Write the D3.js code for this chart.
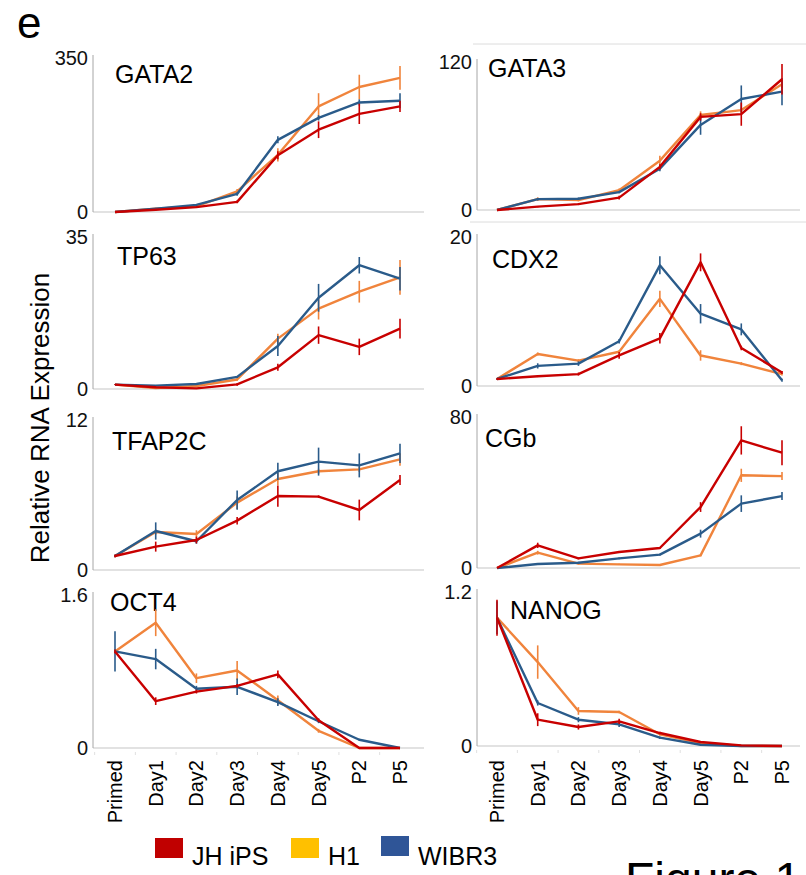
<!DOCTYPE html>
<html>
<head>
<meta charset="utf-8">
<script src="https://cdn.jsdelivr.net/npm/d3@7"></script>
<style>
  body { margin: 0; background: #fff; }
  svg { display: block; font-family: "Liberation Sans", Arial, sans-serif; }
</style>
</head>
<body>
<div id="chart"></div>
<script>
// categories and genes
const categories = ["Primed", "Day1", "Day2", "Day3", "Day4", "Day5", "P2", "P5"];
const genes = ["GATA2", "GATA3", "TP63", "CDX2", "TFAP2C", "CGb", "OCT4", "NANOG"];
const yMax = [350, 120, 35, 20, 12, 80, 1.6, 1.2];
const yMaxLabels = ["350", "120", "35", "20", "12", "80", "1.6", "1.2"];
const seriesNames = ["JH iPS", "H1", "WIBR3"];

// one row per gene, in the order of genes
const jhIPS = [
  [0, 5, 11, 23, 129, 187, 223, 240],
  [0, 2.7, 4.8, 10, 35, 75.5, 77.7, 106],
  [1.0, 0.4, 0.15, 1.07, 5.0, 12.4, 9.7, 13.9],
  [0.94, 1.3, 1.6, 4.1, 6.4, 16.6, 5.1, 1.8],
  [1.12, 1.87, 2.4, 3.95, 5.92, 5.87, 4.8, 7.2],
  [0, 12, 5.1, 8.5, 10.6, 32.3, 67.6, 61.1],
  [1.01, 0.49, 0.59, 0.65, 0.77, 0.29, 0, 0],
  [1.0, 0.205, 0.148, 0.192, 0.101, 0.031, 0.005, 0]
];
const jhIPSErr = [
  [0, 1, 1, 3, 9, 19, 23, 13],
  [0, 0.5, 0.8, 1.5, 2, 3, 9.4, 12.3],
  [0.1, 0.1, 0.1, 0.3, 0.8, 2, 1.9, 2.3],
  [0.1, 0.1, 0.2, 0.45, 0.7, 1.2, 0.3, 0.2],
  [0.1, 0.4, 0.27, 0.3, 0.85, 0.1, 0.83, 0.4],
  [0, 1.4, 0.5, 0.5, 0.5, 2.6, 7.5, 6.6],
  [0.02, 0.04, 0.02, 0.02, 0.04, 0.02, 0, 0],
  [0.14, 0.05, 0.02, 0.02, 0.01, 0.005, 0, 0]
];
const h1 = [
  [0, 7.6, 12.9, 47, 130, 240, 284, 305],
  [0, 8.8, 8, 16, 40, 77, 81, 102],
  [1.0, 0.2, 0.7, 2.2, 11.6, 18.5, 22.4, 25.7],
  [0.94, 4.3, 3.4, 4.6, 11.7, 4.1, 3.0, 1.6],
  [1.12, 3.04, 2.88, 5.39, 7.28, 7.9, 8.05, 8.85],
  [0, 8.1, 2.3, 1.9, 1.6, 6.7, 49.1, 48.7],
  [1.01, 1.31, 0.73, 0.81, 0.5, 0.18, 0, 0],
  [1.0, 0.654, 0.273, 0.265, 0.091, 0.023, 0, 0]
];
const h1Err = [
  [0, 2, 2, 5, 15, 30, 28, 27],
  [0, 1.5, 1, 1.5, 4, 3, 2, 3],
  [0.1, 0.1, 0.1, 0.3, 1.1, 2.5, 2.5, 4],
  [0.1, 0.2, 0.2, 0.2, 1.1, 0.7, 0.2, 0.2],
  [0.1, 0.2, 0.3, 0.5, 0.5, 0.2, 0.2, 0.5],
  [0, 1, 0.5, 0.3, 0.3, 0.5, 3.5, 2.1],
  [0.02, 0.14, 0.05, 0.1, 0.05, 0.02, 0, 0],
  [0.02, 0.13, 0.03, 0.01, 0.01, 0.005, 0, 0]
];
const wibr3 = [
  [0, 7.6, 16, 41, 164, 214, 249, 253],
  [0, 8.8, 9.1, 14.5, 33.5, 69, 90, 96],
  [1.0, 0.77, 1.15, 2.8, 9.9, 21, 28.5, 25.4],
  [0.94, 2.7, 3.0, 6.0, 16.2, 9.7, 7.6, 0.76],
  [1.12, 3.12, 2.3, 5.6, 7.9, 8.67, 8.37, 9.33],
  [0, 2.1, 2.8, 5.1, 7.1, 18.2, 34.1, 38.1],
  [1.01, 0.93, 0.62, 0.64, 0.48, 0.28, 0.086, 0],
  [1.0, 0.335, 0.205, 0.169, 0.065, 0.01, 0, 0]
];
const wibr3Err = [
  [0, 1, 2, 4, 8, 6, 7, 17],
  [0, 1, 1, 1, 2, 8, 11, 11],
  [0.1, 0.1, 0.1, 0.2, 2.3, 3.2, 1.9, 2.7],
  [0.1, 0.35, 0.3, 0.3, 1.2, 1.3, 0.8, 0.2],
  [0.1, 0.69, 0.2, 0.77, 0.69, 1.12, 0.96, 0.77],
  [0, 0.5, 0.5, 0.5, 0.5, 2.1, 4.4, 2.1],
  [0.21, 0.107, 0.03, 0.086, 0.04, 0.02, 0.01, 0],
  [0.127, 0.02, 0.02, 0.02, 0.01, 0.005, 0, 0]
];

let width = 806;
let height = 875;
let lineColors = ["#c80000", "#f0843c", "#2a5b8a"];
let legendColors = ["#c00000", "#ffc000", "#2f5597"];
let values = [jhIPS, h1, wibr3];
let errors = [jhIPSErr, h1Err, wibr3Err];

let svg = d3.select("#chart").append("svg")
    .attr("width", width)
    .attr("height", height)

// panel frames: y-axis x, right end of x-axis, point range
let cols = [
    {axisX: 93, right: 424, x0: 115, x1: 400},
    {axisX: 477, right: 800, x0: 497, x1: 782}
]
let tops = [58, 62, 237, 237, 420, 417, 595, 592]
let bottoms = [212, 210, 389, 386, 570, 568, 748, 746]
let titlePos = [[115, 83], [488, 77], [117, 265], [492, 268], [112, 450], [485, 447], [110, 611], [510, 619]]

// faint frame lines above the right-hand panels of the first two rows
svg.append("line").attr("x1", 473).attr("x2", 806).attr("y1", 44).attr("y2", 44)
    .style("stroke", "#dcdcdc").style("stroke-width", 1)
svg.append("line").attr("x1", 470).attr("x2", 806).attr("y1", 222).attr("y2", 222)
    .style("stroke", "#dcdcdc").style("stroke-width", 1)

// draw order: H1, WIBR3, JH iPS
let order = [1, 2, 0]

genes.forEach(function (gene, i) {
    let col = cols[i % 2]
    let g = svg.append("g")

    let xscale = d3.scalePoint()
        .domain(categories)
        .range([col.x0, col.x1])

    let yscale = d3.scaleLinear()
        .domain([0, yMax[i]])
        .range([bottoms[i], tops[i]])

    // x axis line
    g.append("line")
        .attr("x1", col.axisX).attr("x2", col.right)
        .attr("y1", yscale(0)).attr("y2", yscale(0))
        .style("stroke", "#d9d9d9").style("stroke-width", 1.5)

    // y axis line
    g.append("line")
        .attr("x1", col.axisX).attr("x2", col.axisX)
        .attr("y1", yscale(yMax[i]) - 3).attr("y2", yscale(0))
        .style("stroke", "#a6a6a6").style("stroke-width", 1)

    // y tick labels (0 and max)
    g.selectAll(".ytick").data([0, yMax[i]]).enter().append("text")
        .attr("x", col.axisX - 5)
        .attr("y", d => yscale(d))
        .attr("dy", "0.36em")
        .style("text-anchor", "end")
        .style("font-size", "20px")
        .style("fill", "#111")
        .text((d, k) => k == 0 ? "0" : yMaxLabels[i])

    // title
    g.append("text")
        .attr("x", titlePos[i][0])
        .attr("y", titlePos[i][1])
        .style("font-size", "25px")
        .style("fill", "#000")
        .text(gene)

    order.forEach(function (s) {
        let pts = categories.map((c, k) => ({cat: c, v: values[s][i][k], e: errors[s][i][k]}))

        let line = d3.line()
            .x(d => xscale(d.cat))
            .y(d => yscale(d.v))

        g.append("path")
            .datum(pts)
            .attr("d", line)
            .style("fill", "none")
            .style("stroke", lineColors[s])
            .style("stroke-width", 2.4)
            .style("stroke-linejoin", "round")

        g.selectAll(".err" + s).data(pts.filter(d => d.e > 0)).enter().append("line")
            .attr("x1", d => xscale(d.cat))
            .attr("x2", d => xscale(d.cat))
            .attr("y1", d => yscale(d.v - d.e))
            .attr("y2", d => yscale(d.v + d.e))
            .style("stroke", lineColors[s])
            .style("stroke-width", 1.6)
    })

    // category labels under the bottom row
    if (i >= 6) {
        g.selectAll(".xlab").data(categories).enter().append("text")
            .attr("transform", d => "translate(" + (xscale(d) + 7) + ",760) rotate(-90)")
            .style("text-anchor", "end")
            .style("font-size", "20px")
            .style("fill", "#000")
            .text(d => d)

        let step = xscale.step()
        g.selectAll(".xtick").data(categories).enter().append("line")
            .attr("x1", d => xscale(d) - step / 2)
            .attr("x2", d => xscale(d) - step / 2)
            .attr("y1", yscale(0) + 4)
            .attr("y2", yscale(0) + 7)
            .style("stroke", "#e0e0e0")
            .style("stroke-width", 1)
    }
})

// y label
svg.append("text")
    .attr("transform", "translate(49,418) rotate(-90)")
    .style("text-anchor", "middle")
    .style("font-size", "26px")
    .style("fill", "#000")
    .text("Relative RNA Expression")

// panel letter
svg.append("text")
    .attr("x", 17).attr("y", 38)
    .style("font-size", "44px")
    .style("fill", "#000")
    .text("e")

// legend
let legendX = [155, 291, 381]
let legendRectY = [838, 838, 836]
let legend = svg.selectAll(".legend").data(seriesNames).enter().append("g")
legend.append("rect")
    .attr("x", (d, k) => legendX[k])
    .attr("y", (d, k) => legendRectY[k])
    .attr("width", 28)
    .attr("height", 20)
    .style("fill", (d, k) => legendColors[k])
legend.append("text")
    .attr("x", (d, k) => legendX[k] + 37)
    .attr("y", 865)
    .style("font-size", "25px")
    .style("fill", "#000")
    .text(d => d)

// figure caption, cut off by the bottom edge
svg.append("text")
    .attr("x", 625).attr("y", 896)
    .style("font-size", "48px")
    .style("fill", "#000")
    .text("Figure 1")
</script>
</body>
</html>
